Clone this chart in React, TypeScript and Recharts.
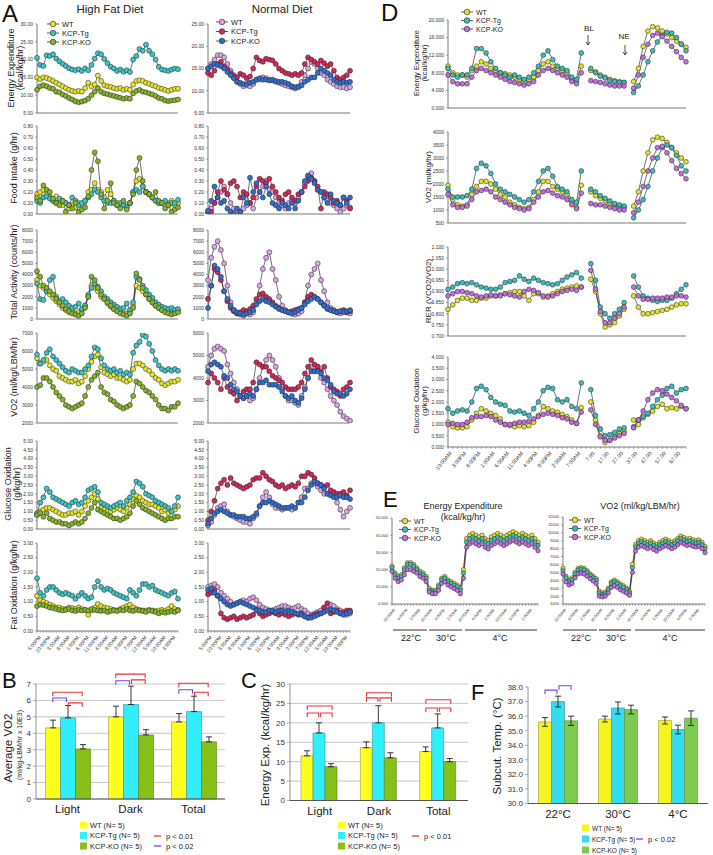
import React from "react";
import { LineChart, Line, XAxis, YAxis, BarChart, Bar, ErrorBar, CartesianGrid } from "recharts";

const FONT = '"Liberation Sans", Arial, Helvetica, sans-serif';

// colours
const HFD = { wt: "#e4e42c", tg: "#3ec4c4", ko: "#86b32a" };
const ND = { wt: "#d8a4e2", tg: "#d3285a", ko: "#2f6fd0" };
const DE = { wt: "#e2e22a", tg: "#3cbcbc", ko: "#c36ddf" };
const BARC = { wt: "#ffff1e", tg: "#30eefc", ko: "#86c018" };
const BARF = { wt: "#f4f41e", tg: "#33dcee", ko: "#7ccb4e" };
const RED = "#e8333a";
const BLUE = "#6f45f0";

// ---------- Panel A : x labels
const aTimeLabels = ["5:00PM", "10:00PM", "3:00AM", "8:00AM", "1:00PM", "6:00PM", "11:00PM", "4:00AM", "9:00AM", "2:00PM", "7:00PM", "12:00AM", "5:00AM", "10:00AM", "3:00PM"];

// Energy expenditure
const eeHfdWT = [15.0,14.5,15.0,14.8,14.5,14.0,13.5,13.0,12.5,12.0,11.5,11.2,11.0,11.2,11.0,12.0,13.5,12.5,13.0,15.5,14.0,12.8,12.5,12.3,12.0,11.8,12.0,11.5,11.8,11.5,13.0,14.0,14.2,14.0,13.5,13.2,12.8,12.5,12.0,11.8,11.5,11.2,11.5,11.8,11.8];
const eeHfdTG = [20.5,18.5,18.2,21.2,21.0,21.5,20.3,19.5,18.8,18.2,17.6,17.2,17.0,17.3,16.8,17.5,17.0,18.5,20.3,21.8,21.5,20.2,19.0,18.0,17.5,16.8,17.2,16.6,17.0,16.5,20.0,21.0,23.0,22.5,24.2,22.5,21.5,20.0,18.0,17.2,17.0,16.8,17.2,17.5,17.3];
const eeHfdKO = [11.5,12.5,12.8,12.5,12.0,11.8,11.0,10.8,10.2,9.8,9.2,8.8,8.3,8.0,8.2,8.5,9.0,10.0,11.0,12.0,11.0,10.5,10.3,10.0,9.8,9.5,9.3,9.0,9.2,9.0,10.5,11.2,11.5,11.0,10.8,10.5,10.2,9.8,9.2,9.0,8.5,8.3,8.5,8.6,8.8];
const eeNdWT = [15.0,16.0,17.0,18.0,18.0,17.5,16.0,14.5,13.0,12.0,11.5,11.0,11.2,11.0,11.5,12.5,12.5,13.0,12.8,12.5,12.3,12.0,11.8,11.5,11.2,11.0,10.8,10.5,11.0,12.0,13.5,15.0,16.5,16.0,15.0,14.0,13.5,12.5,12.0,11.5,11.0,10.8,10.8,10.5,10.8];
const eeNdTG = [14.0,13.5,14.5,16.0,16.5,15.5,14.8,14.0,13.5,13.0,13.8,13.5,12.8,13.2,15.0,17.5,16.8,16.5,17.2,17.0,16.8,16.0,15.0,14.5,14.0,13.8,13.5,13.8,13.5,14.0,16.0,17.5,17.0,16.5,16.0,16.8,16.2,15.5,16.0,14.5,13.0,12.5,13.0,13.5,14.5];
const eeNdKO = [15.0,15.5,16.0,15.8,15.5,15.0,14.2,13.5,12.8,12.0,11.8,11.5,11.5,11.8,12.0,12.5,12.8,12.5,12.5,12.3,12.5,12.2,12.0,12.0,11.8,11.5,11.0,10.8,10.8,11.2,12.0,12.5,13.0,13.0,14.0,15.0,14.5,14.0,13.5,12.5,12.0,11.8,12.0,11.8,12.0];

// Food intake
const fiHfdWT = [0.18,0.2,0.22,0.18,0.15,0.12,0.16,0.1,0.08,0.1,0.05,0.08,0.06,0.1,0.08,0.12,0.2,0.22,0.28,0.22,0.2,0.15,0.22,0.18,0.12,0.1,0.08,0.1,0.06,0.1,0.2,0.3,0.32,0.25,0.2,0.18,0.15,0.12,0.1,0.1,0.08,0.1,0.12,0.08,0.1];
const fiHfdTG = [0.12,0.1,0.15,0.16,0.14,0.12,0.1,0.14,0.12,0.1,0.08,0.15,0.12,0.08,0.1,0.12,0.15,0.18,0.22,0.2,0.15,0.12,0.1,0.1,0.12,0.08,0.1,0.08,0.06,0.1,0.2,0.22,0.2,0.25,0.2,0.18,0.15,0.12,0.1,0.1,0.12,0.08,0.1,0.1,0.13];
const fiHfdKO = [0.15,0.12,0.26,0.22,0.2,0.14,0.1,0.08,0.12,0.02,0.08,0.05,0.1,0.02,0.04,0.06,0.16,0.4,0.56,0.48,0.18,0.05,0.12,0.28,0.1,0.08,0.05,0.12,0.04,0.1,0.18,0.4,0.51,0.3,0.2,0.18,0.15,0.2,0.12,0.1,0.05,0.08,0.02,0.04,0.06];
const fiNdWT = [0.02,0.05,0.1,0.15,0.2,0.25,0.18,0.1,0.05,0.03,0.02,0.05,0.08,0.1,0.05,0.15,0.2,0.25,0.3,0.22,0.2,0.15,0.1,0.08,0.05,0.1,0.12,0.1,0.15,0.2,0.28,0.34,0.37,0.3,0.22,0.2,0.15,0.12,0.1,0.08,0.05,0.02,0.05,0.08,0.06];
const fiNdTG = [0.0,0.02,0.1,0.2,0.3,0.22,0.18,0.28,0.3,0.25,0.15,0.2,0.18,0.1,0.15,0.25,0.32,0.3,0.28,0.32,0.25,0.2,0.15,0.12,0.18,0.2,0.15,0.12,0.18,0.2,0.25,0.3,0.33,0.3,0.25,0.05,0.2,0.18,0.15,0.1,0.12,0.08,0.15,0.12,0.05];
const fiNdKO = [0.03,0.12,0.25,0.15,0.1,0.12,0.05,0.02,0.0,0.05,0.02,0.15,0.1,0.33,0.2,0.28,0.2,0.15,0.25,0.18,0.1,0.08,0.05,0.1,0.08,0.05,0.1,0.05,0.12,0.2,0.3,0.35,0.32,0.28,0.22,0.2,0.15,0.1,0.18,0.12,0.1,0.08,0.15,0.1,0.15];

// Total activity
const taHfdWT = [3500,3000,2800,2500,2200,1900,1600,1300,1000,800,600,700,500,600,800,1200,2000,3000,2800,2500,2000,1800,1400,1100,900,700,600,500,500,700,1200,3000,2800,2500,2200,1800,1500,1200,1000,800,700,600,500,600,700];
const taHfdTG = [3200,1800,1700,2500,3500,3800,2000,1600,1800,1500,1200,1000,1100,1400,900,1200,2200,2800,3200,2900,2500,2000,1800,1500,1300,1100,900,1000,1400,800,1500,3800,3600,3000,2600,2200,1900,1500,1300,1100,1000,900,1000,800,900];
const taHfdKO = [4300,3800,3000,2800,2500,2200,1800,1500,1200,900,700,500,400,300,500,1000,2000,3800,3500,2800,2200,1800,1500,1200,900,700,500,400,300,500,1000,4100,3500,2800,2200,1800,1500,1200,1000,800,600,500,400,500,600];
const taNdWT = [3500,5500,6500,7000,6200,5000,3000,1500,800,500,400,300,500,400,600,1500,3000,4500,5500,6000,4500,3500,2000,1200,800,600,500,400,500,700,1500,3000,4000,4500,5000,3500,2500,1500,1000,800,600,500,700,600,500];
const taNdTG = [1800,3000,4500,4200,3500,2500,1600,1000,700,500,600,800,700,900,1200,1800,2200,2300,2000,1800,1500,1200,1000,800,700,600,700,800,900,1000,1500,2000,2200,2000,1800,1500,1200,900,800,700,600,700,800,600,700];
const taNdKO = [1000,3000,4800,4500,3800,2500,1800,1200,800,600,500,400,500,600,800,1300,1600,1800,1600,1500,1300,1100,900,800,700,600,500,600,800,1000,1300,1600,1800,2000,1800,1500,1200,1000,800,700,600,700,600,700,800];

// VO2
const voHfdWT = [5600,5300,5400,5500,5200,5000,4900,4600,4500,4400,4300,4300,4400,4200,4300,4600,5000,5400,5700,5800,5100,4800,4700,4600,4700,4500,4500,4400,4300,4400,5000,5300,5300,5200,5000,4900,4700,4500,4400,4200,4100,4200,4300,4300,4400];
const voHfdTG = [5800,5300,5500,5900,6100,5700,5500,5300,5100,4900,4800,5000,4900,4800,4800,5000,5200,5700,6200,6100,5600,5200,5000,4900,5000,4800,4900,4700,4800,4700,5900,6300,6500,6900,6800,6400,6000,5500,5200,5000,4900,5000,4900,5000,4900];
const voHfdKO = [4000,4100,4500,4500,4300,4000,3700,3500,3300,3000,2900,2800,2900,3000,3100,3500,4000,4400,4600,4800,4000,3700,3600,3300,3200,3000,2900,2800,2900,3000,3500,4300,4200,4000,3800,3700,3500,3300,3000,2800,2800,2700,2900,2900,3100];
const voNdWT = [4500,5000,5300,5400,5300,5200,4600,4200,3800,3500,3200,3100,3200,3000,3100,3500,4000,4500,4800,5000,4800,4500,4000,3500,3200,3000,3000,2900,2800,3200,3600,4000,4500,4300,4500,4000,3800,3500,3200,3000,2800,2500,2300,2200,2100];
const voNdTG = [3800,4200,4000,3800,3500,4000,3600,3400,3300,3000,3200,3400,3500,3500,3800,4700,4600,4500,4500,4300,4100,4000,3900,3800,3600,3500,3500,3500,3600,3800,4200,4500,4800,4600,4500,4300,4500,4000,3600,3500,3400,3200,3500,3600,3800];
const voNdKO = [4300,4600,4700,4600,4500,4100,4000,3700,3500,3400,3200,3100,3200,3300,3200,3500,3800,3800,3900,3700,3700,3700,3600,3400,3200,3100,3200,3000,2900,3100,3500,4000,4300,4300,4300,4200,4000,3900,3700,3400,3300,3300,3200,3300,3500];

// Glucose oxidation
const goHfdWT = [0.8,1.0,1.1,1.2,1.2,1.1,1.0,0.9,0.8,0.8,0.9,0.9,1.0,0.8,1.0,1.3,1.6,1.8,2.0,1.7,1.2,1.1,1.0,1.0,1.1,1.2,1.1,1.0,1.2,1.4,1.7,1.9,1.8,1.6,1.5,1.4,1.4,1.3,1.2,1.0,1.1,0.9,1.0,1.1,1.3];
const goHfdTG = [0.9,1.5,1.8,2.3,2.1,1.8,1.7,1.6,1.5,1.4,1.3,1.5,1.6,1.4,1.5,1.8,2.2,2.3,2.4,2.1,1.5,1.4,1.3,1.2,1.3,1.4,1.5,1.3,1.6,1.8,2.1,2.7,2.6,2.4,2.0,1.9,1.8,1.6,1.5,1.4,1.3,1.2,1.0,1.3,1.8];
const goHfdKO = [0.8,0.9,0.7,0.9,0.6,0.5,0.4,0.4,0.3,0.3,0.2,0.3,0.4,0.3,0.4,0.6,0.9,1.2,1.5,1.1,1.0,0.9,0.8,0.7,0.6,0.6,0.5,0.6,0.7,0.9,1.3,1.6,1.4,1.2,1.1,1.0,0.9,0.8,0.7,0.6,0.5,0.6,0.6,0.7,0.7];
const goNdWT = [0.2,0.4,0.8,1.2,1.3,1.4,1.0,0.8,0.7,0.6,0.5,0.4,0.4,0.3,0.6,0.8,1.3,1.8,2.1,1.8,1.4,1.2,1.2,1.1,1.2,1.2,1.1,1.2,1.5,1.8,2.3,2.3,2.6,2.6,2.4,2.2,2.0,2.0,2.0,1.9,1.5,1.1,0.7,1.0,1.2];
const goNdTG = [0.5,1.0,1.6,2.3,2.6,2.8,2.5,2.9,2.6,2.5,2.4,2.3,2.4,2.5,2.8,2.9,2.9,3.2,3.0,2.8,2.7,2.5,2.4,2.5,2.3,2.4,2.5,2.4,2.6,3.0,3.0,3.2,3.1,2.9,2.6,2.5,2.4,2.5,2.2,2.1,2.0,2.0,2.1,1.9,2.2];
const goNdKO = [0.3,0.6,0.9,1.0,1.1,1.0,0.9,0.8,0.8,0.7,0.7,0.7,0.6,0.6,0.7,0.9,1.3,1.5,1.5,1.6,1.5,1.4,1.3,1.2,1.2,1.2,1.3,1.2,1.5,1.5,1.8,2.2,2.5,2.7,2.6,2.5,2.3,2.0,1.9,1.8,1.8,1.9,1.8,1.8,1.7];

// Fat oxidation
const foHfdWT = [1.2,1.05,1.0,0.95,0.9,0.85,0.8,0.8,0.75,0.75,0.8,0.78,0.75,0.8,0.75,0.72,0.55,0.7,0.8,0.92,0.85,0.8,0.78,0.75,0.72,0.7,0.75,0.8,0.85,0.9,0.8,0.75,0.72,0.7,0.7,0.72,0.7,0.68,0.7,0.72,0.7,0.75,0.85,0.75,0.72];
const foHfdTG = [1.8,1.3,1.2,1.4,1.5,1.5,1.4,1.3,1.25,1.3,1.25,1.2,1.1,1.2,1.3,1.2,1.1,1.15,1.5,1.7,1.5,1.4,1.45,1.4,1.3,1.25,1.2,1.15,1.1,1.4,1.3,1.2,1.4,1.6,1.6,1.5,1.55,1.4,1.35,1.3,1.25,1.2,1.3,1.35,1.1];
const foHfdKO = [0.85,0.9,0.88,0.85,0.8,0.78,0.75,0.72,0.7,0.72,0.75,0.7,0.68,0.72,0.7,0.72,0.7,0.75,0.72,0.7,0.68,0.7,0.65,0.68,0.7,0.68,0.72,0.7,0.75,0.7,0.68,0.72,0.7,0.68,0.65,0.7,0.68,0.65,0.6,0.65,0.62,0.65,0.68,0.65,0.7];
const foNdWT = [1.5,1.55,1.6,1.5,1.3,1.2,1.1,1.0,0.9,0.95,1.0,1.05,1.0,1.1,1.15,1.05,0.9,0.8,0.75,0.7,0.7,0.75,0.8,0.85,0.85,0.8,0.75,0.8,0.85,0.75,0.7,0.6,0.55,0.6,0.65,0.7,0.8,0.85,0.9,0.85,0.75,0.7,0.6,0.55,0.6];
const foNdTG = [1.25,1.3,1.4,1.2,0.6,0.45,0.4,0.45,0.5,0.4,0.45,0.5,0.45,0.5,0.55,0.75,0.6,0.5,0.55,0.6,0.65,0.6,0.55,0.6,0.55,0.5,0.55,0.6,0.55,0.6,0.5,0.45,0.5,0.55,0.6,0.6,0.8,0.95,0.6,0.65,0.7,0.6,0.65,0.7,0.7];
const foNdKO = [1.4,1.45,1.3,1.2,1.1,1.0,0.9,0.85,0.9,0.95,1.0,0.95,0.9,0.85,0.8,0.7,0.7,0.65,0.65,0.7,0.7,0.65,0.7,0.7,0.65,0.7,0.65,0.6,0.6,0.55,0.5,0.45,0.45,0.5,0.55,0.6,0.65,0.7,0.75,0.7,0.65,0.6,0.55,0.6,0.65];

// ---------- Panel D : three recording segments (baseline, BL, NE)
const dTimeLabels = ["10:00AM", "3:00PM", "8:00PM", "1:00AM", "6:00AM", "11:00AM", "4:00PM", "9:00PM", "2:00AM", "7:00AM", "7.00", "17.00", "27.00", "37.00", "47.00", "57.00", "67.00"];

const dEeWT1 = [9.5,8.0,7.5,7.5,7.0,8.5,9.5,10.5,10.0,9.0,8.5,8.0,7.8,7.5,7.0,6.5,6.0,6.5,7.0,8.5,10.0,10.5,9.5,9.0,8.5,8.0,6.5,6.0,9.5];
const dEeWT2 = [8.5,8.2,7.5,7.0,6.5,6.2,6.0,5.8];
const dEeWT3 = [6.0,9.0,14.0,17.5,18.5,18.2,17.5,16.8,16.0,15.2,14.5,13.8];
const dEeTG1 = [9.0,7.5,7.0,7.5,7.5,9.0,13.5,13.5,12.5,10.5,9.0,8.0,7.5,7.0,7.5,7.0,6.5,7.0,8.0,9.5,12.0,13.0,11.0,9.5,9.0,8.5,7.0,6.5,12.5];
const dEeTG2 = [9.0,8.0,7.2,6.8,6.2,6.0,5.8,5.8];
const dEeTG3 = [3.5,5.0,7.5,10.5,13.0,15.0,16.5,17.2,17.0,16.0,14.5,13.0];
const dEeKO1 = [7.5,6.0,5.5,5.5,5.5,7.0,8.5,9.0,8.5,8.0,7.5,7.0,6.5,6.0,5.8,5.5,5.2,5.5,6.0,7.5,8.5,9.0,8.5,8.0,7.5,7.0,6.0,5.5,8.0];
const dEeKO2 = [6.2,6.0,5.8,5.5,5.2,5.0,5.0,5.0];
const dEeKO3 = [4.5,7.5,11.5,14.5,16.5,17.0,16.2,15.2,14.0,12.8,11.5,10.5];

const dVoWT1 = [1950,1400,1200,1150,1200,1600,1900,2100,2100,2000,1800,1600,1500,1300,1200,1100,1050,1100,1400,1700,2100,2100,1900,1800,1700,1600,1300,1100,1950];
const dVoWT2 = [1700,1550,1450,1350,1250,1200,1150,1100];
const dVoWT3 = [1150,1700,2500,3200,3700,3800,3750,3600,3400,3200,3000,2850];
const dVoTG1 = [1800,1500,1500,1500,1550,1800,2600,2800,2700,2400,2000,1800,1700,1600,1500,1400,1300,1400,1700,2100,2500,2600,2300,1900,1800,1700,1400,1300,2500];
const dVoTG2 = [1800,1700,1550,1450,1350,1250,1200,1150];
const dVoTG3 = [700,1000,1400,1900,2500,3000,3400,3500,3400,3100,2700,2500];
const dVoKO1 = [1600,1200,1100,1100,1150,1400,1700,1750,1800,1700,1500,1400,1300,1200,1100,1050,1000,1050,1300,1500,1700,1750,1650,1550,1500,1400,1200,1050,1650];
const dVoKO2 = [1250,1200,1200,1150,1100,1050,1000,1000];
const dVoKO3 = [900,1300,1900,2500,3000,3400,3450,3200,2900,2600,2400,2200];

const dRerWT1 = [0.82,0.84,0.86,0.87,0.87,0.86,0.86,0.87,0.87,0.88,0.88,0.885,0.89,0.895,0.9,0.9,0.88,0.86,0.89,0.89,0.875,0.88,0.89,0.9,0.91,0.915,0.92,0.925,0.92];
const dRerWT2 = [0.955,0.9,0.8,0.74,0.75,0.76,0.79,0.82];
const dRerWT3 = [0.88,0.83,0.8,0.8,0.805,0.81,0.815,0.82,0.83,0.84,0.845,0.845];
const dRerTG1 = [0.91,0.92,0.935,0.94,0.935,0.94,0.93,0.92,0.915,0.91,0.91,0.92,0.94,0.945,0.95,0.97,0.955,0.945,0.96,0.95,0.94,0.935,0.93,0.935,0.95,0.965,0.975,0.985,0.96];
const dRerTG2 = [1.025,0.95,0.83,0.8,0.78,0.8,0.82,0.85];
const dRerTG3 = [0.97,0.92,0.88,0.87,0.86,0.855,0.86,0.86,0.87,0.89,0.91,0.93];
const dRerKO1 = [0.88,0.89,0.9,0.9,0.895,0.89,0.88,0.875,0.88,0.885,0.88,0.88,0.89,0.885,0.88,0.875,0.9,0.91,0.905,0.895,0.88,0.875,0.88,0.89,0.9,0.905,0.91,0.905,0.92];
const dRerKO2 = [0.995,0.91,0.81,0.76,0.76,0.78,0.8,0.83];
const dRerKO3 = [0.92,0.88,0.865,0.865,0.87,0.87,0.87,0.875,0.875,0.88,0.88,0.875];

const dGoWT1 = [1.1,0.9,0.85,0.85,0.9,1.2,1.5,1.7,1.6,1.5,1.4,1.25,1.0,0.95,0.9,0.95,0.9,0.95,1.1,1.4,1.8,1.7,1.6,1.55,1.45,1.35,1.2,1.05,1.75];
const dGoWT2 = [2.0,1.2,0.5,0.2,0.3,0.45,0.6,0.7];
const dGoWT3 = [1.2,1.0,1.3,1.45,1.6,1.8,1.9,1.7,1.75,1.7,1.8,1.7];
const dGoTG1 = [1.7,1.5,1.6,1.65,1.6,2.0,2.6,2.7,2.55,2.2,2.0,1.9,1.85,1.6,1.55,1.6,1.5,1.4,1.7,2.0,2.5,2.65,2.6,2.1,2.0,2.1,1.8,1.7,2.85];
const dGoTG2 = [2.55,1.4,0.8,0.5,0.55,0.65,0.8,0.85];
const dGoTG3 = [0.9,1.2,1.35,1.5,1.8,2.1,2.3,2.6,2.7,2.4,2.55,2.6];
const dGoKO1 = [1.0,1.05,1.0,1.0,1.1,1.3,1.35,1.35,1.4,1.35,1.2,1.1,1.0,1.0,1.05,1.1,1.1,1.15,1.25,1.35,1.45,1.5,1.45,1.4,1.3,1.25,1.1,1.05,1.55];
const dGoKO2 = [1.65,1.0,0.45,0.3,0.3,0.4,0.5,0.6];
const dGoKO3 = [0.85,1.2,1.6,2.1,2.4,2.55,2.5,2.35,2.2,2.05,1.85,1.7];

// ---------- Panel E
const eTimeLabels = ["10:00AM", "6:00PM", "2:00AM", "10:00AM", "6:00PM", "2:00AM", "10:00AM", "6:00PM", "2:00AM", "10:00AM", "6:00PM", "2:00AM"];
const eEeWT = [22,18,16,17,21,24,24,23,21,19,18,16, 9,8,8,11,15,16,14,13,12,11,9, 20,38,40,41,40,39,40,38,37,39,40,41,40,39,40,41,42,41,40,41,40,39,40,38,36];
const eEeTG = [21,17,15,16,20,23,23,22,20,18,17,15, 8,7,7,10,14,15,13,12,11,10,8, 18,36,38,39,38,37,38,36,35,37,38,39,38,37,38,39,40,39,38,39,38,37,38,36,34];
const eEeKO = [19,15,13,14,17,20,20,19,18,16,15,13, 7,6,6,8,12,13,11,10,9,8,6, 15,33,35,36,35,34,35,33,32,34,35,36,35,34,35,36,37,36,35,36,35,34,35,33,31];
const eVoWT = [5500,4500,4000,4300,5000,5500,5600,5500,5200,4800,4500,4200, 2600,2400,2500,3000,3800,4000,3800,3500,3300,3000,2600, 6000,8500,9000,9200,9000,8800,9000,8700,8500,8800,9000,9200,9000,8800,9000,9300,9600,9400,9200,9300,9100,9000,9100,8800,8300];
const eVoTG = [5200,4300,3800,4100,4800,5300,5400,5300,5000,4600,4300,4000, 2400,2200,2300,2800,3600,3800,3600,3300,3100,2800,2400, 5600,8200,8700,8900,8700,8500,8700,8400,8200,8500,8700,8900,8700,8500,8700,9000,9300,9100,8900,9000,8800,8700,8800,8500,8000];
const eVoKO = [4800,3800,3400,3600,4300,4800,4900,4800,4500,4200,3900,3600, 2000,1900,2000,2400,3100,3300,3100,2800,2600,2400,2100, 5000,7700,8200,8400,8200,8000,8200,7900,7700,8000,8200,8400,8200,8000,8200,8500,8800,8600,8400,8500,8300,8200,8300,8000,7500];

// ---------- Panel B (average VO2)
const bCats = ["Light", "Dark", "Total"];
const bWT = [4.33, 5.0, 4.69];
const bWTErr = [0.47, 0.65, 0.51];
const bTG = [4.94, 5.75, 5.32];
const bTGErr = [0.75, 1.12, 0.94];
const bKO = [3.05, 3.9, 3.48];
const bKOErr = [0.26, 0.32, 0.3];

// ---------- Panel C (energy exp.)
const cCats = ["Light", "Dark", "Total"];
const cWT = [11.5, 13.6, 12.6];
const cWTErr = [1.3, 1.5, 1.2];
const cTG = [17.4, 20.0, 18.7];
const cTGErr = [2.6, 4.4, 3.6];
const cKO = [8.7, 11.0, 10.0];
const cKOErr = [0.8, 1.3, 0.8];

// ---------- Panel F (subcut. temp)
const fCats = ["22\u00B0C", "30\u00B0C", "4\u00B0C"];
const fWT = [35.6, 35.8, 35.7];
const fWTErr = [0.3, 0.2, 0.24];
const fTG = [37.0, 36.56, 35.08];
const fTGErr = [0.37, 0.41, 0.3];
const fKO = [35.68, 36.45, 35.86];
const fKOErr = [0.32, 0.3, 0.5];

// significance brackets: category, from bar, to bar, height (data units)
const bBrackets = [
  { c: 0, a: 0, b: 2, v: 6.5, col: RED }, { c: 0, a: 0, b: 1, v: 6.15, col: BLUE }, { c: 0, a: 1, b: 2, v: 5.85, col: RED },
  { c: 1, a: 0, b: 2, v: 7.6, col: RED }, { c: 1, a: 0, b: 1, v: 7.2, col: BLUE }, { c: 1, a: 1, b: 2, v: 7.25, col: RED },
  { c: 2, a: 0, b: 2, v: 7.05, col: RED }, { c: 2, a: 0, b: 1, v: 6.65, col: BLUE }, { c: 2, a: 1, b: 2, v: 6.5, col: RED },
];
const cBrackets = [
  { c: 0, a: 0, b: 2, v: 24.2, col: RED }, { c: 0, a: 0, b: 1, v: 22.4, col: RED }, { c: 0, a: 1, b: 2, v: 22.4, col: RED },
  { c: 1, a: 0, b: 2, v: 27.6, col: RED }, { c: 1, a: 0, b: 1, v: 26.3, col: RED }, { c: 1, a: 1, b: 2, v: 26.3, col: RED },
  { c: 2, a: 0, b: 2, v: 25.8, col: RED }, { c: 2, a: 0, b: 1, v: 23.7, col: RED }, { c: 2, a: 1, b: 2, v: 23.7, col: RED },
];
const fBrackets = [
  { c: 0, a: 0, b: 1, v: 37.75, col: BLUE }, { c: 0, a: 1, b: 2, v: 38.05, col: BLUE },
];

type Series = { name: string; color: string; values: (number | null)[] };

const trio = (pal: { wt: string; tg: string; ko: string }, wt: (number | null)[], tg: (number | null)[], ko: (number | null)[]): Series[] => [
  { name: "WT", color: pal.wt, values: wt },
  { name: "KCP-Tg", color: pal.tg, values: tg },
  { name: "KCP-KO", color: pal.ko, values: ko },
];
const segs = (a: number[], b: number[], c: number[]) => [...a, null, ...b, null, ...c];
const labelRow = (labels: string[], n: number, step: number) =>
  Array.from({ length: n }, (_, i) => (i % step === 0 ? labels[i / step] ?? "" : ""));

function RotTick(props: any) {
  const { x, y, payload, labels, fs } = props;
  const s = labels[payload.value];
  if (!s) return <g />;
  return (
    <text x={x + 1} y={y} textAnchor="end" dominantBaseline="hanging" fontSize={fs} fill="#333"
      fontFamily={FONT} transform={`rotate(-50 ${x + 1} ${y})`}>{s}</text>
  );
}

function TimeChart(p: {
  x: number; y: number; w: number; h: number; series: Series[]; domain: [number, number];
  ticks: number[]; digits: number; labels?: string[]; labelFs?: number; xh?: number; yw?: number; tfs?: number; r?: number;
}) {
  const yw = p.yw ?? 18, xh = p.xh ?? 4, tfs = p.tfs ?? 5, r = p.r ?? 2.5;
  const n = p.series[0].values.length;
  const rows = Array.from({ length: n }, (_, i) => {
    const row: Record<string, number | null> = { i };
    p.series.forEach((s, k) => { row["s" + k] = s.values[i]; });
    return row;
  });
  return (
    <div style={{ position: "absolute", left: p.x - yw, top: p.y - 4 }}>
      <LineChart width={p.w + yw + 4} height={p.h + 4 + xh} data={rows} margin={{ top: 4, right: 4, bottom: 0, left: 0 }}>
        <XAxis dataKey="i" interval={0} height={xh} tickSize={2}
          axisLine={{ stroke: "#555", strokeWidth: 0.8 }} tickLine={{ stroke: "#666", strokeWidth: 0.5 }}
          tick={p.labels ? (tp: any) => <RotTick {...tp} labels={p.labels} fs={p.labelFs ?? 5} /> : false} />
        <YAxis type="number" domain={p.domain} ticks={p.ticks} interval={0} width={yw} tickSize={2} allowDataOverflow
          axisLine={{ stroke: "#555", strokeWidth: 0.8 }} tickLine={{ stroke: "#555", strokeWidth: 0.5 }}
          tick={{ fontSize: tfs, fill: "#333", fontFamily: FONT }}
          tickFormatter={(v: number) => v.toFixed(p.digits)} />
        {p.series.map((s, k) => (
          <Line key={k} dataKey={"s" + k} stroke="#333" strokeWidth={0.7} isAnimationActive={false}
            dot={{ r, fill: s.color, stroke: "#222", strokeWidth: 0.5 }} activeDot={false} connectNulls={false} />
        ))}
      </LineChart>
    </div>
  );
}

type BarSeries = { color: string; stroke: string; values: number[]; errs: number[] };

function GroupBars(p: {
  x: number; y: number; w: number; h: number; cats: string[]; series: BarSeries[]; oneSided: boolean;
  domain: [number, number]; ticks: number[]; digits: number; yw: number; gap: number; grid: boolean; tfs: number;
}) {
  const rows = p.cats.map((c, ci) => {
    const row: Record<string, any> = { c };
    p.series.forEach((s, k) => {
      row["v" + k] = s.values[ci];
      row["e" + k] = p.oneSided ? [0, s.errs[ci]] : s.errs[ci];
    });
    return row;
  });
  return (
    <div style={{ position: "absolute", left: p.x - p.yw, top: p.y - 4 }}>
      <BarChart width={p.w + p.yw + 4} height={p.h + 4 + 22} data={rows} margin={{ top: 4, right: 4, bottom: 0, left: 0 }}
        barCategoryGap={p.gap} barGap={0}>
        {p.grid && <CartesianGrid vertical={false} stroke="#b8b8b8" strokeWidth={0.8} />}
        <XAxis dataKey="c" height={22} tickLine={false} tickSize={3} tickMargin={3}
          axisLine={{ stroke: "#555", strokeWidth: 1 }}
          tick={{ fontSize: 11.5, fill: "#222", fontFamily: FONT }} />
        <YAxis type="number" domain={p.domain} ticks={p.ticks} interval={0} width={p.yw} tickSize={3}
          axisLine={{ stroke: "#777", strokeWidth: 0.8 }} tickLine={{ stroke: "#777", strokeWidth: 0.6 }}
          tick={{ fontSize: p.tfs, fill: "#333", fontFamily: FONT }}
          tickFormatter={(v: number) => v.toFixed(p.digits)} />
        {p.series.map((s, k) => (
          <Bar key={k} dataKey={"v" + k} fill={s.color} stroke={s.stroke} strokeWidth={0.6} isAnimationActive={false}>
            <ErrorBar dataKey={"e" + k} width={3} stroke="#222" strokeWidth={0.9} direction="y" />
          </Bar>
        ))}
      </BarChart>
    </div>
  );
}

// bracket geometry helpers (same band layout as GroupBars)
function barCx(x: number, w: number, ncat: number, nser: number, gap: number, ci: number, si: number) {
  const band = w / ncat;
  const bw = (band - 2 * gap) / nser;
  return x + ci * band + gap + bw * (si + 0.5);
}
function valY(y: number, h: number, dom: [number, number], v: number) {
  return y + ((dom[1] - v) / (dom[1] - dom[0])) * h;
}

function Brackets(p: { list: { c: number; a: number; b: number; v: number; col: string }[]; x: number; y: number; w: number; h: number; gap: number; dom: [number, number] }) {
  return (
    <g>
      {p.list.map((br, k) => {
        const x1 = barCx(p.x, p.w, 3, 3, p.gap, br.c, br.a) + (br.a === 1 ? 1 : 0);
        const x2 = barCx(p.x, p.w, 3, 3, p.gap, br.c, br.b) - (br.b === 1 ? 1 : 0);
        const yy = valY(p.y, p.h, p.dom, br.v);
        return <path key={k} d={`M${x1} ${yy + 4} V${yy} H${x2} V${yy + 4}`} fill="none" stroke={br.col} strokeWidth={1.1} />;
      })}
    </g>
  );
}

function VText(p: { x: number; y: number; fs: number; t: string }) {
  return (
    <text x={p.x} y={p.y} fontSize={p.fs} textAnchor="middle" dominantBaseline="central" fill="#222"
      transform={`rotate(-90 ${p.x} ${p.y})`}>{p.t}</text>
  );
}

function DotLegend(p: { x: number; y: number; dy: number; fs: number; items: Series[] }) {
  return (
    <g>
      {p.items.map((it, k) => {
        const yy = p.y + k * p.dy;
        return (
          <g key={k}>
            <line x1={p.x - 6} x2={p.x + 6} y1={yy} y2={yy} stroke="#333" strokeWidth={0.8} />
            <circle cx={p.x} cy={yy} r={2.8} fill={it.color} stroke="#222" strokeWidth={0.6} />
            <text x={p.x + 9} y={yy} dominantBaseline="central" fontSize={p.fs} fill="#222">{it.name}</text>
          </g>
        );
      })}
    </g>
  );
}

function SquareLegend(p: { x: number; y: number; dy: number; fs: number; items: { name: string; color: string }[] }) {
  return (
    <g>
      {p.items.map((it, k) => {
        const yy = p.y + k * p.dy;
        return (
          <g key={k}>
            <rect x={p.x} y={yy - 3.5} width={7} height={7} fill={it.color} />
            <text x={p.x + 10} y={yy} dominantBaseline="central" fontSize={p.fs} fill="#222">{it.name}</text>
          </g>
        );
      })}
    </g>
  );
}

function PLegend(p: { x: number; y: number; col: string; t: string }) {
  return (
    <g>
      <line x1={p.x} x2={p.x + 7} y1={p.y} y2={p.y} stroke={p.col} strokeWidth={1.3} />
      <text x={p.x + 12} y={p.y} dominantBaseline="central" fontSize={7.5} fill="#222">{p.t}</text>
    </g>
  );
}

// geometry
const AL = { x: 37, w: 141 };
const AR = { x: 208, w: 142 };
const AROWS = [
  { y: 24, h: 89 }, { y: 126, h: 88 }, { y: 230, h: 89 }, { y: 333, h: 90 }, { y: 441, h: 88 }, { y: 543, h: 88 },
];
const DX = { x: 448, w: 238 };
const B = { x: 36, y: 684, w: 189, h: 115, gap: 9.5, dom: [0, 7] as [number, number] };
const C = { x: 290, y: 683.5, w: 178, h: 116.5, gap: 11, dom: [0, 30] as [number, number] };
const F = { x: 528, y: 686.5, w: 180, h: 116.5, gap: 10.5, dom: [30, 38] as [number, number] };

export default function App() {
  const aLabels = labelRow(aTimeLabels, 45, 3);
  const dLabels = labelRow(dTimeLabels, 51, 3);
  const eLabels = labelRow(eTimeLabels, 48, 4);
  const t = (a: number, b: number, s: number) => { const out: number[] = []; for (let v = a; v <= b + 1e-9; v += s) out.push(+v.toFixed(3)); return out; };

  const hfdLegend = trio(HFD, [], [], []);
  const ndLegend = trio(ND, [], [], []);
  const deLegend = trio(DE, [], [], []);

  return (
    <div style={{ position: "absolute", left: 0, top: 0, width: 713, height: 855, background: "#fff", overflow: "hidden", fontFamily: FONT }}>
      {/* Panel A - high fat diet */}
      <TimeChart x={AL.x} y={AROWS[0].y} w={AL.w} h={AROWS[0].h} series={trio(HFD, eeHfdWT, eeHfdTG, eeHfdKO)} domain={[5, 30]} ticks={t(5, 30, 5)} digits={2} />
      <TimeChart x={AL.x} y={AROWS[1].y} w={AL.w} h={AROWS[1].h} series={trio(HFD, fiHfdWT, fiHfdTG, fiHfdKO)} domain={[0, 0.8]} ticks={t(0, 0.8, 0.1)} digits={2} />
      <TimeChart x={AL.x} y={AROWS[2].y} w={AL.w} h={AROWS[2].h} series={trio(HFD, taHfdWT, taHfdTG, taHfdKO)} domain={[0, 8000]} ticks={t(0, 8000, 1000)} digits={0} />
      <TimeChart x={AL.x} y={AROWS[3].y} w={AL.w} h={AROWS[3].h} series={trio(HFD, voHfdWT, voHfdTG, voHfdKO)} domain={[2000, 7000]} ticks={t(2000, 7000, 1000)} digits={0} />
      <TimeChart x={AL.x} y={AROWS[4].y} w={AL.w} h={AROWS[4].h} series={trio(HFD, goHfdWT, goHfdTG, goHfdKO)} domain={[0, 5]} ticks={t(0, 5, 0.5)} digits={2} />
      <TimeChart x={AL.x} y={AROWS[5].y} w={AL.w} h={AROWS[5].h} series={trio(HFD, foHfdWT, foHfdTG, foHfdKO)} domain={[0, 3]} ticks={t(0, 3, 0.5)} digits={2} labels={aLabels} labelFs={5} xh={24} />

      {/* Panel A - normal diet */}
      <TimeChart x={AR.x} y={AROWS[0].y} w={AR.w} h={AROWS[0].h} series={trio(ND, eeNdWT, eeNdTG, eeNdKO)} domain={[5, 25]} ticks={t(5, 25, 5)} digits={2} />
      <TimeChart x={AR.x} y={AROWS[1].y} w={AR.w} h={AROWS[1].h} series={trio(ND, fiNdWT, fiNdTG, fiNdKO)} domain={[0, 0.8]} ticks={t(0, 0.8, 0.1)} digits={2} />
      <TimeChart x={AR.x} y={AROWS[2].y} w={AR.w} h={AROWS[2].h} series={trio(ND, taNdWT, taNdTG, taNdKO)} domain={[0, 8000]} ticks={t(0, 8000, 1000)} digits={0} />
      <TimeChart x={AR.x} y={AROWS[3].y} w={AR.w} h={AROWS[3].h} series={trio(ND, voNdWT, voNdTG, voNdKO)} domain={[2000, 6000]} ticks={t(2000, 6000, 1000)} digits={0} />
      <TimeChart x={AR.x} y={AROWS[4].y} w={AR.w} h={AROWS[4].h} series={trio(ND, goNdWT, goNdTG, goNdKO)} domain={[0, 5]} ticks={t(0, 5, 0.5)} digits={2} />
      <TimeChart x={AR.x} y={AROWS[5].y} w={AR.w} h={AROWS[5].h} series={trio(ND, foNdWT, foNdTG, foNdKO)} domain={[0, 3]} ticks={t(0, 3, 0.5)} digits={2} labels={aLabels} labelFs={5} xh={24} />

      {/* Panel D */}
      <TimeChart x={DX.x} y={20} w={DX.w} h={88} yw={22} r={2.4}
        series={trio(DE, segs(dEeWT1, dEeWT2, dEeWT3), segs(dEeTG1, dEeTG2, dEeTG3), segs(dEeKO1, dEeKO2, dEeKO3))}
        domain={[0, 20]} ticks={t(0, 20, 4)} digits={3} />
      <TimeChart x={DX.x} y={132} w={DX.w} h={91} yw={22} r={2.4}
        series={trio(DE, segs(dVoWT1, dVoWT2, dVoWT3), segs(dVoTG1, dVoTG2, dVoTG3), segs(dVoKO1, dVoKO2, dVoKO3))}
        domain={[500, 4000]} ticks={t(500, 4000, 500)} digits={0} />
      <TimeChart x={DX.x} y={247} w={DX.w} h={89} yw={22} r={2.4}
        series={trio(DE, segs(dRerWT1, dRerWT2, dRerWT3), segs(dRerTG1, dRerTG2, dRerTG3), segs(dRerKO1, dRerKO2, dRerKO3))}
        domain={[0.7, 1.1]} ticks={t(0.7, 1.1, 0.05)} digits={3} />
      <TimeChart x={DX.x} y={357} w={DX.w} h={90} yw={22} r={2.4}
        series={trio(DE, segs(dGoWT1, dGoWT2, dGoWT3), segs(dGoTG1, dGoTG2, dGoTG3), segs(dGoKO1, dGoKO2, dGoKO3))}
        domain={[0, 4]} ticks={t(0, 4, 0.5)} digits={3} labels={dLabels} labelFs={5.5} xh={30} />

      {/* Panel E */}
      <TimeChart x={392} y={518} w={146} h={86} yw={18} r={2.2} tfs={4}
        series={trio(DE, eEeWT, eEeTG, eEeKO)} domain={[0, 50]} ticks={t(0, 50, 10)} digits={3} labels={eLabels} labelFs={4} xh={22} />
      <TimeChart x={563} y={517} w={142} h={87} yw={16} r={2.2} tfs={4}
        series={trio(DE, eVoWT, eVoTG, eVoKO)} domain={[1000, 12000]} ticks={t(1000, 12000, 1000)} digits={0} labels={eLabels} labelFs={4} xh={22} />

      {/* Panel B */}
      <GroupBars x={B.x} y={B.y} w={B.w} h={B.h} cats={bCats} oneSided gap={B.gap} domain={B.dom} ticks={t(0, 7, 1)} digits={0} yw={12} grid tfs={8}
        series={[
          { color: BARC.wt, stroke: "#9c9c3c", values: bWT, errs: bWTErr },
          { color: BARC.tg, stroke: "#3a8c94", values: bTG, errs: bTGErr },
          { color: BARC.ko, stroke: "#5a7c20", values: bKO, errs: bKOErr },
        ]} />
      {/* Panel C */}
      <GroupBars x={C.x} y={C.y} w={C.w} h={C.h} cats={cCats} oneSided gap={C.gap} domain={C.dom} ticks={t(0, 30, 5)} digits={0} yw={14} grid tfs={8}
        series={[
          { color: BARC.wt, stroke: "#9c9c3c", values: cWT, errs: cWTErr },
          { color: BARC.tg, stroke: "#3a8c94", values: cTG, errs: cTGErr },
          { color: BARC.ko, stroke: "#5a7c20", values: cKO, errs: cKOErr },
        ]} />
      {/* Panel F */}
      <GroupBars x={F.x} y={F.y} w={F.w} h={F.h} cats={fCats} oneSided={false} gap={F.gap} domain={F.dom} ticks={t(30, 38, 1)} digits={1} yw={22} grid={false} tfs={8}
        series={[
          { color: BARF.wt, stroke: "#9c9c3c", values: fWT, errs: fWTErr },
          { color: BARF.tg, stroke: "#3a8c94", values: fTG, errs: fTGErr },
          { color: BARF.ko, stroke: "#5a8c3a", values: fKO, errs: fKOErr },
        ]} />

      <svg width={713} height={855} style={{ position: "absolute", left: 0, top: 0, pointerEvents: "none" }} fontFamily={FONT}>
        {/* panel letters */}
        <text x={2} y={22} fontSize={24} fill="#111">A</text>
        <text x={381} y={21} fontSize={24} fill="#111">D</text>
        <text x={383} y={507} fontSize={22} fill="#111">E</text>
        <text x={2} y={688} fontSize={22} fill="#111">B</text>
        <text x={241} y={688} fontSize={22} fill="#111">C</text>
        <text x={471} y={700} fontSize={22} fill="#111">F</text>

        {/* A titles and labels */}
        <text x={110} y={13} fontSize={11.5} textAnchor="middle" fill="#222">High Fat Diet</text>
        <text x={282} y={13} fontSize={11.5} textAnchor="middle" fill="#222">Normal Diet</text>
        <VText x={11} y={68} fs={9} t="Energy Expenditure" />
        <VText x={20} y={68} fs={9} t="(kcal/kg/hr)" />
        <VText x={14} y={168} fs={9} t="Food Intake (g/hr)" />
        <VText x={14} y={272} fs={9} t="Total Activity (counts/hr)" />
        <VText x={14} y={377} fs={9} t="VO2 (ml/kg/LBM/hr)" />
        <VText x={8} y={484} fs={9} t="Glucose Oxidation" />
        <VText x={17} y={484} fs={9} t="(g/kg/hr)" />
        <VText x={14} y={585} fs={9} t="Fat Oxidation (g/kg/hr)" />
        <DotLegend x={53} y={24} dy={9} fs={7.5} items={hfdLegend} />
        <DotLegend x={222} y={22} dy={9.5} fs={7.5} items={ndLegend} />

        {/* D labels */}
        <VText x={416} y={63} fs={7.5} t="Energy Expenditure" />
        <VText x={424} y={63} fs={7.5} t="(kcal/kg/hr)" />
        <VText x={428} y={177} fs={8} t="VO2 (ml/kg/hr)" />
        <VText x={428} y={291} fs={8} t="RER (VCO2/VO2)" />
        <VText x={416} y={401} fs={8} t="Glucose Oxidation" />
        <VText x={424} y={401} fs={8} t="(g/kg/hr)" />
        <DotLegend x={467} y={12} dy={8.5} fs={7} items={deLegend} />
        <text x={589} y={31} fontSize={8} textAnchor="middle" fill="#222">BL</text>
        <path d="M588 35 V45 M586 42 L588 45 L590 42" stroke="#222" strokeWidth={0.8} fill="none" />
        <text x={624} y={39} fontSize={8} textAnchor="middle" fill="#222">NE</text>
        <path d="M625 45 V55 M623 52 L625 55 L627 52" stroke="#222" strokeWidth={0.8} fill="none" />

        {/* E labels */}
        <text x={463} y={509} fontSize={9} textAnchor="middle" fill="#222">Energy Expenditure</text>
        <text x={463} y={520} fontSize={9} textAnchor="middle" fill="#222">(kcal/kg/hr)</text>
        <text x={640} y={509} fontSize={9} textAnchor="middle" fill="#222">VO2 (ml/kg/LBM/hr)</text>
        <DotLegend x={405} y={521} dy={8.5} fs={7} items={deLegend} />
        <DotLegend x={575} y={520} dy={8.5} fs={7} items={deLegend} />
        <g stroke="#333" strokeWidth={1.2}>
          <line x1={393} x2={427} y1={630} y2={630} />
          <line x1={429} x2={462} y1={630} y2={630} />
          <line x1={465} x2={537} y1={630} y2={630} />
          <line x1={563} x2={597} y1={630} y2={630} />
          <line x1={599} x2={631} y1={630} y2={630} />
          <line x1={635} x2={705} y1={630} y2={630} />
        </g>
        <g fontSize={9} textAnchor="middle" fill="#222">
          <text x={411} y={641}>22°C</text>
          <text x={446} y={641}>30°C</text>
          <text x={500} y={641}>4°C</text>
          <text x={581} y={641}>22°C</text>
          <text x={616} y={641}>30°C</text>
          <text x={670} y={641}>4°C</text>
        </g>

        {/* B */}
        <VText x={8} y={748} fs={11.5} t="Average VO2" />
        <VText x={19} y={745} fs={7} t="(ml/kg-LBM/hr x 10E3)" />
        <Brackets list={bBrackets} x={B.x} y={B.y} w={B.w} h={B.h} gap={B.gap} dom={B.dom} />
        <SquareLegend x={80} y={825} dy={10.5} fs={7.5} items={[{ name: "WT (N= 5)", color: BARC.wt }, { name: "KCP-Tg (N= 5)", color: BARC.tg }, { name: "KCP-KO (N= 5)", color: BARC.ko }]} />
        <PLegend x={154} y={836} col={RED} t="p < 0.01" />
        <PLegend x={154} y={846} col={BLUE} t="p < 0.02" />

        {/* C */}
        <VText x={265} y={745} fs={11.5} t="Energy Exp. (kcal/kg/hr)" />
        <Brackets list={cBrackets} x={C.x} y={C.y} w={C.w} h={C.h} gap={C.gap} dom={C.dom} />
        <SquareLegend x={338} y={825} dy={10.5} fs={7.5} items={[{ name: "WT (N= 5)", color: BARC.wt }, { name: "KCP-Tg (N= 5)", color: BARC.tg }, { name: "KCP-KO (N= 5)", color: BARC.ko }]} />
        <PLegend x={412} y={836} col={RED} t="p < 0.01" />

        {/* F */}
        <VText x={497} y={746} fs={11.5} t="Subcut. Temp. (°C)" />
        <Brackets list={fBrackets} x={F.x} y={F.y} w={F.w} h={F.h} gap={F.gap} dom={F.dom} />
        <SquareLegend x={582} y={828} dy={11} fs={6.5} items={[{ name: "WT (N= 5)", color: BARF.wt }, { name: "KCP-Tg (N= 5)", color: BARF.tg }, { name: "KCP-KO (N= 5)", color: BARF.ko }]} />
        <PLegend x={636} y={839} col={BLUE} t="p < 0.02" />
      </svg>
    </div>
  );
}
